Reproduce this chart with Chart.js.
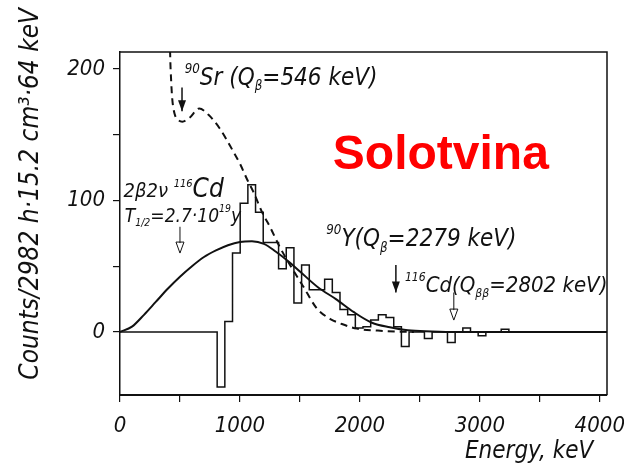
<!DOCTYPE html>
<html>
<head>
<meta charset="utf-8">
<script src="https://cdn.jsdelivr.net/npm/chart.js@4.4.1/dist/chart.umd.min.js"></script>
<style>
  html, body { margin: 0; padding: 0; background: #fff; }
</style>
</head>
<body>
<canvas id="chart" width="624" height="472"></canvas>
<script>
// measured spectrum, 64 keV bins starting at histStart (keV)
const binWidth = 64;
const histStart = 810;
const histCounts = [-42, 8, 60, 98, 112, 91, 68, 68, 48, 64, 22, 51, 32, 32, 40, 30, 17, 13, 3, 4,
  9, 13, 11, 4, -11, 0, 0, -5, 0, 0, -8, 0, 3, 0, -3, 0, 0, 2, 0];

// 2b2v fit of 116Cd
const fitEnergy = [0, 100, 200, 300, 400, 500, 600, 700, 800, 900, 1000, 1100, 1200, 1300, 1400, 1500, 1650, 1800, 1950, 2100, 2250, 2400, 2600, 2800, 4060];
const fitCounts = [0, 4, 13, 23, 33, 42, 50, 57, 62, 66, 68.5, 69, 67, 61, 54, 46, 34, 25, 15, 7, 3.5, 1.2, 0.4, 0, 0];

// 90Sr + 90Y background (dashed)
const bgEnergy = [410, 418, 426, 436, 455, 490, 520, 580, 660, 740, 830, 940, 1000, 1060, 1110, 1190, 1250, 1330, 1430, 1525, 1640, 1750, 1850, 1975, 2150, 2300, 2450];
const bgCounts = [260, 212, 192, 177, 166, 161, 160, 163, 170, 165, 155, 138, 128, 116, 107, 90, 80, 65, 49, 35, 18, 10, 6, 2.5, 1, 0.3, 0];

const xTicks = [0, 500, 1000, 1500, 2000, 2500, 3000, 3500, 4000];
const yTicks = [0, 50, 100, 150, 200];
const xMax = 4060;
const yMin = -48;
const yMax = 213;

const handFont = '"DejaVu Sans Condensed", "DejaVu Sans", sans-serif';

// labels on the plot, placed in data units (keV, counts)
const notes = [
  { e: 540, v: 188, size: 24, parts: [['90', 'sup'], ['Sr (Q'], ['β', 'sub'], ['=546 keV)']] },
  { e: 30, v: 103, size: 20, parts: [['2β2ν '], ['116', 'sup'], ['Cd', 'big']] },
  { e: 40, v: 84, size: 19, parts: [['T'], ['1/2', 'sub'], ['=2.7·10'], ['19', 'sup'], ['y']] },
  { e: 1720, v: 65, size: 24, parts: [['90', 'sup'], ['Y(Q'], ['β', 'sub'], ['=2279 keV)']] },
  { e: 2375, v: 30, size: 22, parts: [['116', 'sup'], ['Cd(Q'], ['ββ', 'sub'], ['=2802 keV)']] }
];

const arrows = [
  { e: 517, from: 186, to: 168, open: false },
  { e: 500, from: 80, to: 60, open: true },
  { e: 2300, from: 51, to: 30, open: false },
  { e: 2783, from: 30, to: 9, open: true }
];

const histPoints = [{ x: 0, y: 0 }];
histCounts.forEach((c, i) => histPoints.push({ x: histStart + i * binWidth, y: c }));
histPoints.push({ x: histStart + histCounts.length * binWidth, y: 0 });
histPoints.push({ x: xMax, y: 0 });

const fitPoints = fitEnergy.map((e, i) => ({ x: e, y: fitCounts[i] }));
const bgPoints = bgEnergy.map((e, i) => ({ x: e, y: bgCounts[i] }));

function drawRich(ctx, parts, x, y, size) {
  let cx = x;
  parts.forEach(p => {
    let s = size, dy = 0;
    if (p[1] === 'sup') { s = size * 0.55; dy = -size * 0.5; }
    if (p[1] === 'sub') { s = size * 0.55; dy = size * 0.22; }
    if (p[1] === 'big') { s = size * 1.3; }
    ctx.font = `italic ${s}px ${handFont}`;
    ctx.fillText(p[0], cx, y + dy);
    cx += ctx.measureText(p[0]).width;
  });
}

const framePlugin = {
  id: 'frame',
  afterDraw(chart) {
    const { ctx, chartArea: a, scales: { x, y } } = chart;
    ctx.save();
    ctx.strokeStyle = '#111';
    ctx.lineWidth = 1.5;
    ctx.beginPath();
    ctx.moveTo(a.left, a.top);
    ctx.lineTo(a.right, a.top);
    ctx.lineTo(a.right, a.bottom);
    ctx.stroke();

    ctx.fillStyle = '#111';
    ctx.textBaseline = 'alphabetic';
    ctx.textAlign = 'left';
    notes.forEach(n => drawRich(ctx, n.parts, x.getPixelForValue(n.e), y.getPixelForValue(n.v), n.size));

    arrows.forEach(ar => {
      const px = x.getPixelForValue(ar.e);
      const y0 = y.getPixelForValue(ar.from);
      const y1 = y.getPixelForValue(ar.to);
      ctx.lineWidth = ar.open ? 1 : 1.5;
      ctx.beginPath();
      ctx.moveTo(px, y0);
      ctx.lineTo(px, y1 - (ar.open ? 10 : 0));
      ctx.stroke();
      ctx.beginPath();
      ctx.moveTo(px, y1);
      ctx.lineTo(px - 4, y1 - 11);
      ctx.lineTo(px + 4, y1 - 11);
      ctx.closePath();
      if (ar.open) ctx.stroke(); else ctx.fill();
    });

    // site name
    ctx.fillStyle = '#ff0000';
    ctx.font = 'bold 48px "Liberation Sans", Arial, sans-serif';
    ctx.textAlign = 'center';
    ctx.fillText('Solotvina', x.getPixelForValue(2675), y.getPixelForValue(124));
    ctx.restore();
  }
};

const ctx = document.getElementById('chart').getContext('2d');
const chart = new Chart(ctx, {
  type: 'line',
  data: {
    datasets: [
      {
        label: 'Experimental spectrum',
        data: histPoints,
        stepped: 'before',
        borderColor: '#111',
        borderWidth: 1.5,
        pointRadius: 0,
        fill: false
      },
      {
        label: '2β2ν 116Cd',
        data: fitPoints,
        cubicInterpolationMode: 'monotone',
        borderColor: '#111',
        borderWidth: 2,
        pointRadius: 0,
        fill: false
      },
      {
        label: '90Sr + 90Y',
        data: bgPoints,
        cubicInterpolationMode: 'monotone',
        borderColor: '#111',
        borderWidth: 2,
        borderDash: [7, 5],
        pointRadius: 0,
        fill: false
      }
    ]
  },
  options: {
    responsive: false,
    animation: false,
    layout: { padding: { top: 52, right: 17, left: 0, bottom: 0 } },
    plugins: {
      legend: { display: false },
      tooltip: { enabled: false }
    },
    scales: {
      x: {
        type: 'linear',
        min: 0,
        max: xMax,
        afterFit: s => { s.height = 77; s.paddingLeft = 0; s.paddingRight = 0; },
        afterBuildTicks: s => { s.ticks = xTicks.map(v => ({ value: v })); },
        border: { display: true, color: '#111', width: 2 },
        grid: { display: true, drawOnChartArea: false, drawTicks: true, tickLength: 7, color: '#111', lineWidth: 1.2 },
        ticks: {
          maxRotation: 0,
          autoSkip: false,
          padding: 11,
          color: '#111',
          font: { family: handFont, size: 22, style: 'italic' },
          callback: v => (v % 1000 === 0 ? String(v) : '')
        },
        title: {
          display: true,
          text: 'Energy, keV  ',
          align: 'end',
          color: '#111',
          padding: { top: 0, bottom: 6 },
          font: { family: handFont, size: 24, style: 'italic' }
        }
      },
      y: {
        type: 'linear',
        min: yMin,
        max: yMax,
        afterFit: s => { s.width = 120; },
        afterBuildTicks: s => { s.ticks = yTicks.map(v => ({ value: v })); },
        border: { display: true, color: '#111', width: 1.5 },
        grid: { display: true, drawOnChartArea: false, drawTicks: true, tickLength: 7, color: '#111', lineWidth: 1.2 },
        ticks: {
          autoSkip: false,
          padding: 8,
          color: '#111',
          font: { family: handFont, size: 22, style: 'italic' },
          callback: v => (v % 100 === 0 ? String(v) : '')
        },
        title: {
          display: true,
          text: '        Counts/2982 h·15.2 cm³·64 keV',
          color: '#111',
          padding: { top: 16, bottom: 0 },
          font: { family: handFont, size: 26, style: 'italic' }
        }
      }
    }
  },
  plugins: [framePlugin]
});
</script>
</body>
</html>
